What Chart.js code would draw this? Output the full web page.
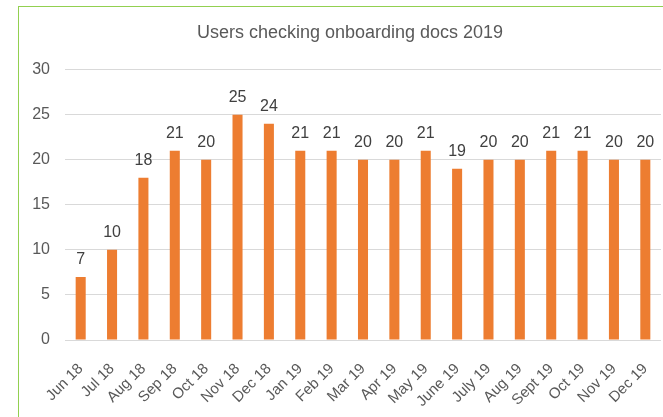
<!DOCTYPE html>
<html lang="en">
<head>
    <meta charset="UTF-8" />
    <title>Users checking onboarding docs 2019</title>
    <style>
        * {
            margin: 0;
            padding: 0;
        }

        body {
            width: 663px;
            height: 417px;
            overflow: hidden;
            background: #ffffff;
            position: relative;
        }

        .chartBox {
            position: absolute;
            left: 18px;
            top: 6px;
            width: 664px;
            height: 440px;
            border: solid 1px #92d050;
            background: white;
        }
    </style>
</head>
<body>
    <div class="chartBox">
        <canvas id="myChart" width="664" height="440"></canvas>
    </div>
    <script src="https://cdn.jsdelivr.net/npm/chart.js@4/dist/chart.umd.min.js"></script>
    <script>
        const labels = ["Jun 18", "Jul 18", "Aug 18", "Sep 18", "Oct 18", "Nov 18", "Dec 18",
            "Jan 19", "Feb 19", "Mar 19", "Apr 19", "May 19", "June 19", "July 19",
            "Aug 19", "Sept 19", "Oct 19", "Nov 19", "Dec 19"];
        const users = [7, 10, 18, 21, 20, 25, 24, 21, 21, 20, 20, 21, 19, 20, 20, 21, 21, 20, 20];
        const yTicks = [0, 5, 10, 15, 20, 25, 30];

        const fontFamily = "'Liberation Sans', Arial, sans-serif";

        // value labels above each bar
        const valueLabels = {
            id: "valueLabels",
            afterDatasetsDraw(chart) {
                const ctx = chart.ctx;
                const meta = chart.getDatasetMeta(0);
                ctx.save();
                ctx.font = "16px " + fontFamily;
                ctx.fillStyle = "#404040";
                ctx.textAlign = "center";
                ctx.textBaseline = "alphabetic";
                meta.data.forEach((bar, i) => {
                    ctx.fillText(users[i], bar.x, bar.y - 13);
                });
                ctx.restore();
            }
        };

        const data = {
            labels: labels,
            datasets: [{
                label: "Users",
                data: users,
                backgroundColor: "#ed7d31",
                borderWidth: 0,
                categoryPercentage: 1,
                barPercentage: 0.32
            }]
        };

        const options = {
            responsive: false,
            animation: false,
            layout: {
                padding: { left: 0, right: 2, top: 0, bottom: 0 }
            },
            scales: {
                x: {
                    grid: { display: false },
                    border: { display: false },
                    ticks: {
                        color: "#595959",
                        font: { family: fontFamily, size: 15 },
                        minRotation: 45,
                        maxRotation: 45,
                        padding: 12,
                        autoSkip: false
                    },
                    afterFit: (scale) => { scale.height = 440 - 333; }
                },
                y: {
                    min: 0,
                    max: 30,
                    afterBuildTicks: (scale) => {
                        scale.ticks = yTicks.map(v => ({ value: v }));
                    },
                    grid: {
                        color: "#d9d9d9",
                        lineWidth: 1,
                        drawTicks: false
                    },
                    border: { display: false },
                    ticks: {
                        color: "#595959",
                        font: { family: fontFamily, size: 16 },
                        padding: 15
                    },
                    afterFit: (scale) => { scale.width = 46; }
                },
                // empty right margin so the plot ends where the reference does
                yRight: {
                    position: "right",
                    min: 0,
                    max: 30,
                    grid: { display: false },
                    border: { display: false },
                    ticks: { display: false },
                    afterFit: (scale) => { scale.width = 20; }
                }
            },
            plugins: {
                legend: { display: false },
                tooltip: { enabled: false },
                title: {
                    display: true,
                    text: "Users checking onboarding docs 2019",
                    color: "#595959",
                    font: { family: fontFamily, size: 18, weight: "normal" },
                    padding: { top: 15, bottom: 26 }
                }
            }
        };

        const ctx = document.getElementById("myChart").getContext("2d");
        const myChart = new Chart(ctx, {
            type: "bar",
            data: data,
            plugins: [valueLabels],
            options: options
        });
    </script>
</body>
</html>
